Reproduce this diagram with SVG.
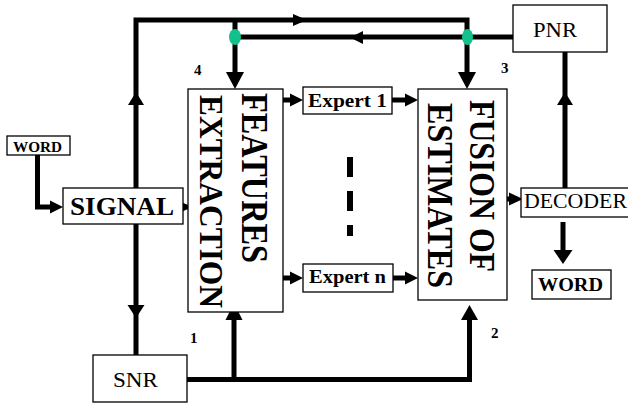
<svg xmlns="http://www.w3.org/2000/svg" width="628" height="403" viewBox="0 0 628 403">
<style>
.box{fill:#fff;stroke:#000;stroke-width:1.3}
.ln{fill:none;stroke:#000;stroke-width:5;stroke-linejoin:miter;stroke-linecap:butt}
.ah{fill:#000;stroke:none}
text{font-family:'Liberation Serif','Times New Roman','DejaVu Serif',serif;fill:#000}
.b{font-weight:bold}
.dot{fill:#13c08e}
</style>
<rect width="628" height="403" fill="#fff"/>

<g id="connectors">
  <path class="ln" d="M37.5,155 V207 H52"/>
  <polygon class="ah" points="50,200.5 63,207 50,213.5"/>
  <polygon class="ah" points="176,200 193,207 176,214"/>
  <path class="ln" d="M136,188 V20 H467 V37"/>
  <polygon class="ah" points="128,105 136,92 144,105"/>
  <polygon class="ah" points="293,14 307,20 293,26"/>
  <path class="ln" d="M136,224 V355"/>
  <polygon class="ah" points="127.5,305 136,318 144.5,305"/>
  <path class="ln" d="M235,20 V74"/>
  <polygon class="ah" points="226,72 235,89 244,72"/>
  <path class="ln" d="M513,37 H235"/>
  <polygon class="ah" points="363,31 350,37.5 363,44"/>
  <path class="ln" d="M467,37 V74"/>
  <polygon class="ah" points="458,72 467,89 476,72"/>
  <path class="ln" d="M565,188 V52"/>
  <polygon class="ah" points="557,105 565,92 573,105"/>
  <path class="ln" d="M187,379.5 H469.5 V318"/>
  <path class="ln" d="M234,379.5 V318"/>
  <polygon class="ah" points="225.5,320 234,303 242.5,320"/>
  <polygon class="ah" points="461,320 469.5,305 478,320"/>
  <path class="ln" d="M283,100 H291"/>
  <polygon class="ah" points="290,93.5 303,100 290,106.5"/>
  <path class="ln" d="M283,278 H291"/>
  <polygon class="ah" points="290,271.5 303,278 290,284.5"/>
  <path class="ln" d="M392,100 H406"/>
  <polygon class="ah" points="405,93.5 418,100 405,106.5"/>
  <path class="ln" d="M393,278 H406"/>
  <polygon class="ah" points="405,271.5 418,278 405,284.5"/>
  <path class="ln" d="M507,199 H511"/>
  <polygon class="ah" points="509,192.5 523,199 509,205.5"/>
  <path class="ln" d="M563,222 V251"/>
  <polygon class="ah" points="553.5,250 563,264 572.5,250"/>
  <rect x="347" y="157" width="6" height="20" fill="#000"/>
  <rect x="347" y="191" width="6" height="20" fill="#000"/>
  <rect x="347" y="225" width="6" height="11" fill="#000"/>
</g>

<g id="junction4"><ellipse class="dot" cx="235" cy="37" rx="6" ry="8"/></g>
<g id="junction3"><ellipse class="dot" cx="467.5" cy="37" rx="5.5" ry="8"/></g>

<g id="word-in">
  <rect class="box" x="7" y="136" width="63" height="19"/>
  <text class="b" x="13" y="151.5" font-size="14.5" textLength="49" lengthAdjust="spacingAndGlyphs">WORD</text>
</g>

<g id="signal">
  <rect class="box" x="63" y="188" width="120" height="36"/>
  <text class="b" x="70" y="215" font-size="26" textLength="104" lengthAdjust="spacingAndGlyphs">SIGNAL</text>
</g>

<g id="snr">
  <rect class="box" x="93" y="355" width="94" height="47"/>
  <text x="113" y="387" font-size="22" textLength="45" lengthAdjust="spacingAndGlyphs">SNR</text>
</g>

<g id="pnr">
  <rect class="box" x="513" y="5" width="94" height="47"/>
  <text x="533" y="37" font-size="22" textLength="44" lengthAdjust="spacingAndGlyphs">PNR</text>
</g>

<g id="features">
  <rect class="box" x="188" y="89" width="95" height="223"/>
  <text class="b" transform="translate(242,93) rotate(90)" font-size="37" textLength="170" lengthAdjust="spacingAndGlyphs">FEATURES</text>
  <text class="b" transform="translate(200,95) rotate(90)" font-size="34" textLength="213" lengthAdjust="spacingAndGlyphs">EXTRACTION</text>
</g>

<g id="fusion">
  <rect class="box" x="418" y="89" width="89" height="211"/>
  <text class="b" transform="translate(470,100) rotate(90)" font-size="35" textLength="172" lengthAdjust="spacingAndGlyphs">FUSION OF</text>
  <text class="b" transform="translate(428,103) rotate(90)" font-size="35" textLength="185" lengthAdjust="spacingAndGlyphs">ESTIMATES</text>
</g>

<g id="expert1">
  <rect class="box" x="303" y="87" width="89" height="27"/>
  <text class="b" x="308" y="107" font-size="19" textLength="79" lengthAdjust="spacingAndGlyphs">Expert 1</text>
</g>

<g id="expertn">
  <rect class="box" x="303" y="264" width="90" height="28"/>
  <text class="b" x="309" y="283" font-size="19" textLength="77" lengthAdjust="spacingAndGlyphs">Expert n</text>
</g>

<g id="decoder">
  <rect class="box" x="521" y="188" width="110" height="29"/>
  <text x="524" y="208" font-size="20.5" textLength="103" lengthAdjust="spacingAndGlyphs">DECODER</text>
</g>

<g id="word-out">
  <rect class="box" x="532" y="270" width="79" height="29"/>
  <text class="b" x="538" y="291" font-size="19.5" textLength="65" lengthAdjust="spacingAndGlyphs">WORD</text>
</g>

<g id="labels">
  <text class="b" x="194" y="75" font-size="15">4</text>
  <text class="b" x="501" y="73" font-size="15">3</text>
  <text class="b" x="190" y="343" font-size="15">1</text>
  <text class="b" x="491" y="338" font-size="15">2</text>
</g>
</svg>
